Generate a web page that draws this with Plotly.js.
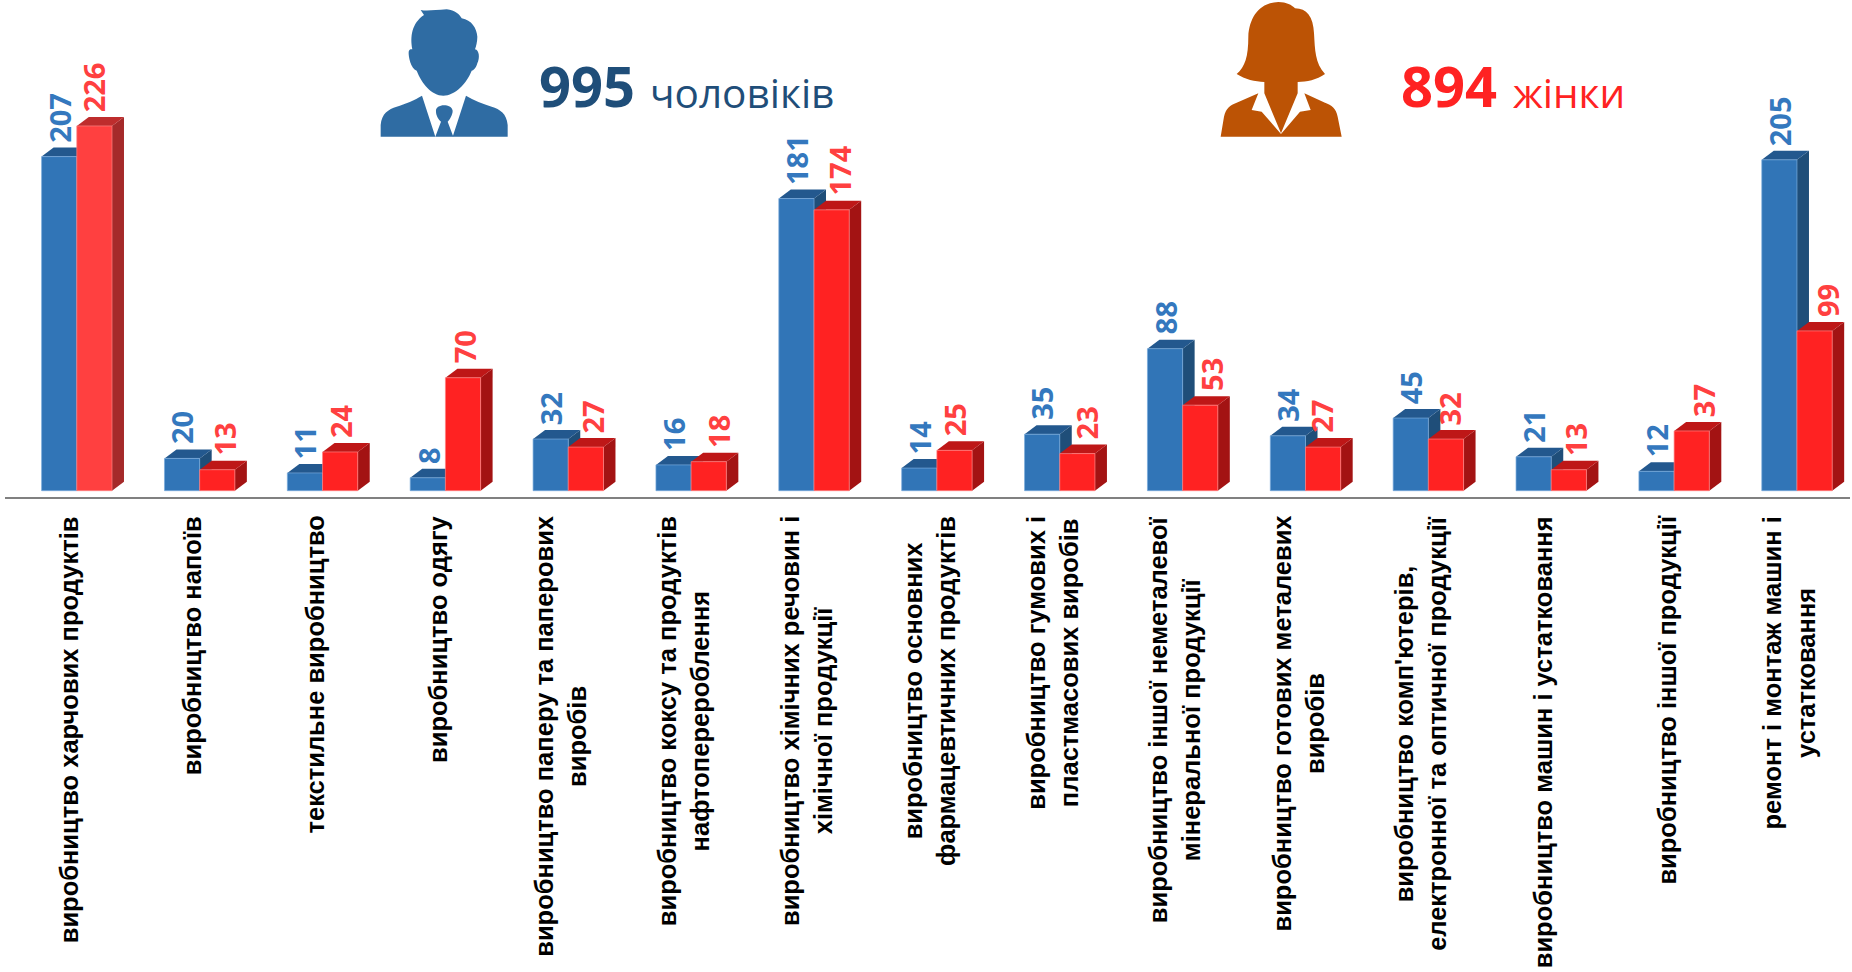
<!DOCTYPE html>
<html><head><meta charset="utf-8">
<script src="https://cdn.plot.ly/plotly-3.0.1.min.js"></script>
<style>html,body{margin:0;padding:0;background:#fff;overflow:hidden}#c{width:1852px;height:972px}</style>
</head><body><div id="c"></div>
<script>
const categories = [
 "виробництво харчових продуктів",
 "виробництво напоїв",
 "текстильне виробництво",
 "виробництво одягу",
 "виробництво паперу та паперових<br>виробів",
 "виробництво коксу та продуктів<br>нафтоперероблення",
 "виробництво хімічних речовин і<br>хімічної продукції",
 "виробництво основних<br>фармацевтичних продуктів",
 "виробництво гумових і<br>пластмасових виробів",
 "виробництво іншої неметалевої<br>мінеральної продукції",
 "виробництво готових металевих<br>виробів",
 "виробництво комп'ютерів,<br>електронної та оптичної продукції",
 "виробництво машин і устатковання",
 "виробництво іншої продукції",
 "ремонт і монтаж машин і<br>устатковання"
];
const men   = [207,20,11,8,32,16,181,14,35,88,34,45,21,12,205];
const women = [226,13,24,70,27,18,174,25,23,53,27,32,13,37,99];
const womenLabelShift = [0,7,1,1,7,9,8,0,9,11,-1,4,6,12,13];

const W=1852,H=972,L=5,R=2,T=0,B=475;
const unitX=122.87, unitY=1.614, baseX=76.8;
const xRange=[(L-baseX)/unitX,(W-R-baseX)/unitX];
const yRange=[-(497-490.7)/unitY,490.7/unitY];
const barW=35.2/unitX, dx=12/unitX, dy=9/unitY;
const BLUE='#3175B7',BLUE_TOP='#23588E',BLUE_SIDE='#1F4E79';
const RED='#FF2222',RED_TOP='#BE1717',RED_SIDE='#A31313';
const RED0='#FF4040',RED0_TOP='#BE2D2D',RED0_SIDE='#A52A2A';
const px=x=>(x-L)/(W-L-R), py=y=>1-(y-T)/(H-T-B);

function poly(pts,color){
  return {type:'path',xref:'x',yref:'y',layer:'below',fillcolor:color,line:{width:0},
    path:'M'+pts.map(p=>p[0].toFixed(4)+','+p[1].toFixed(3)).join(' L')+' Z'};
}
function faces(i,v,x0,top,side){
  const x1=x0+barW;
  return [
    poly([[x1,0],[x1+dx,dy],[x1+dx,v+dy],[x1,v]],side),
    poly([[x0,v],[x0+dx,v+dy],[x1+dx,v+dy],[x1,v]],top)
  ];
}
const shapes=[];
men.forEach((v,i)=>shapes.push(...faces(i,v,i-barW,BLUE_TOP,BLUE_SIDE)));
women.forEach((v,i)=>shapes.push(...faces(i,v,i,i===0?RED0_TOP:RED_TOP,i===0?RED0_SIDE:RED_SIDE)));

// icons: outlines traced in crop units, origin ox, scale 1/3
function icon(d,ox,color){
  const path=d.replace(/(-?\d+),(-?\d+)/g,(m,a,b)=>px(ox+a/3).toFixed(5)+','+py(b/3).toFixed(5));
  return {type:'path',xref:'paper',yref:'paper',layer:'above',fillcolor:color,line:{width:0},path};
}
const MAN='#2F6CA3',WOMAN='#BC5305';
[
 'M182,30 C200,34 225,30 260,28 C285,30 300,45 305,55 C335,60 350,85 352,110 C352,125 348,140 345,148 C358,150 360,175 352,190 C348,205 340,212 335,212 C320,250 285,287 250,287 C215,287 185,250 170,212 C152,205 145,170 146,155 C148,148 152,147 157,148 C150,110 155,70 192,45 Z',
 'M62,410 L62,375 C65,340 85,328 110,320 C135,312 165,300 186,287 L226,410 Z',
 'M443,410 L443,375 C440,340 420,328 395,320 C370,312 340,300 318,287 L278,410 Z',
 'M228,335 C225,310 275,310 278,332 C278,345 268,360 263,365 L280,410 L226,410 L243,365 C235,358 228,345 228,335 Z'
].forEach(d=>shapes.push(icon(d,360,MAN)));
[
 'M235,6 C260,6 275,15 285,25 C320,25 340,50 342,100 C345,150 345,190 375,222 C350,240 320,245 293,246 L293,280 L243,400 L193,280 L193,246 C165,245 135,238 110,222 C135,200 145,170 145,110 C148,50 180,8 235,6 Z',
 'M62,410 L72,350 C78,325 90,315 110,308 L175,280 L155,330 L185,335 L243,402 L243,410 Z',
 'M425,410 L413,350 C408,325 395,315 375,308 L313,280 L332,330 L300,335 L243,402 L243,410 Z'
].forEach(d=>shapes.push(icon(d,1200,WOMAN)));

const LABEL_FONT='"Open Sans"', CAT_FONT='"Liberation Sans"';
const annotations=[];
const dataLabel=(v,x,color,shift)=>({x,y:v,xref:'x',yref:'y',text:String(v),textangle:-90,showarrow:false,
  xanchor:'center',yanchor:'bottom',xshift:shift,yshift:12,
  font:{family:LABEL_FONT,size:29,color,weight:700}});
men.forEach((v,i)=>annotations.push(dataLabel(v,i-barW/2,'#3478BE',0)));
women.forEach((v,i)=>annotations.push(dataLabel(v,i+barW/2,'#FF4040',womenLabelShift[i])));
categories.forEach((c,i)=>annotations.push({x:i,y:0,xref:'x',yref:'paper',text:c,textangle:-90,showarrow:false,
  xanchor:'center',yanchor:'top',align:'center',xshift:-8,yshift:-17,
  font:{family:CAT_FONT,size:25.5,color:'#000',weight:700}}));
const head=(text,x,yb,size,color,weight)=>({x:px(x),y:py(yb),xref:'paper',yref:'paper',text,showarrow:false,
  xanchor:'left',yanchor:'bottom',font:{family:LABEL_FONT,size,color,weight}});
annotations.push(head('995',537,125,56,'#1F4E79',700));
annotations.push(head('чоловіків',648,122,40.5,'#1F4E79',400));
annotations.push(head('894',1399,125,56,'#FF2222',700));
annotations.push(head('жінки',1511,122,40.5,'#FF2222',400));

const edge=c=>({color:c,width:1});
const traces=[
 {type:'bar',name:'чоловіки',x:categories,y:men,marker:{color:BLUE,line:edge('rgba(120,170,220,0.7)')},hoverinfo:'y'},
 {type:'bar',name:'жінки',x:categories,y:women,marker:{color:women.map((v,i)=>i===0?RED0:RED),line:edge('rgba(255,130,130,0.7)')},hoverinfo:'y'}
];
const layout={
 width:W,height:H,margin:{l:L,r:R,t:T,b:B,pad:0},paper_bgcolor:'#fff',plot_bgcolor:'rgba(0,0,0,0)',
 barmode:'group',bargap:1-2*barW,bargroupgap:0,showlegend:false,
 xaxis:{type:'category',range:xRange,showticklabels:false,ticks:'',showgrid:false,zeroline:false,showline:true,linecolor:'#808080',linewidth:2,fixedrange:true},
 yaxis:{range:yRange,visible:false,showgrid:false,zeroline:false,fixedrange:true},
 shapes,annotations
};
Plotly.newPlot('c',traces,layout,{displayModeBar:false,responsive:false});
</script></body></html>
